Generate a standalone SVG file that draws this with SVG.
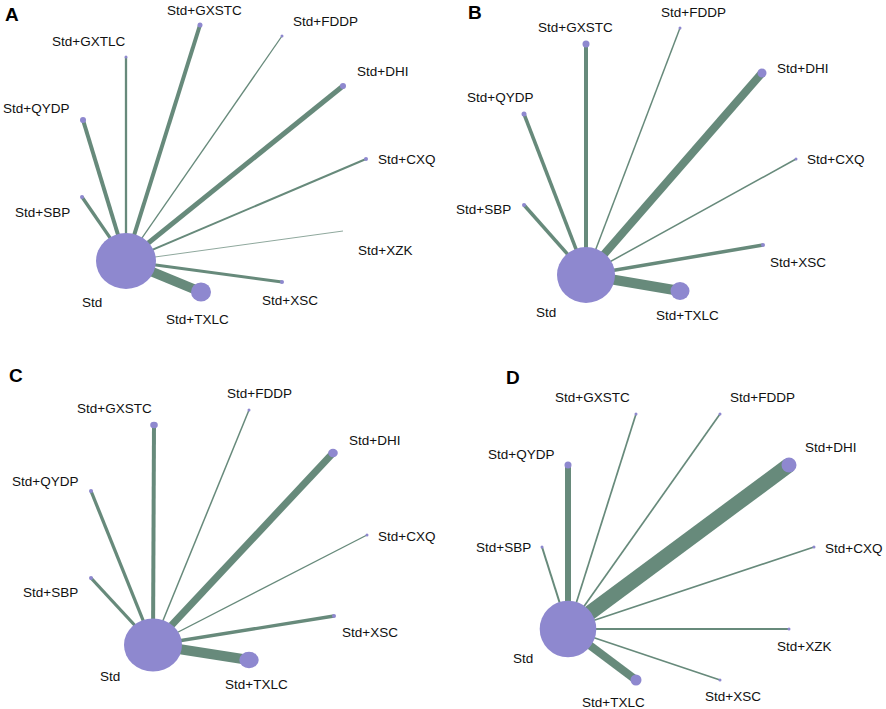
<svg xmlns="http://www.w3.org/2000/svg" width="886" height="709" viewBox="0 0 886 709">
<style>
.e{stroke:#678a7b;fill:none}
.n{fill:#8e88cf}
.t{font-family:"Liberation Sans",Arial,sans-serif;font-size:13.5px;fill:#111}
.p{font-family:"Liberation Sans",Arial,sans-serif;font-size:19px;font-weight:bold;fill:#000}
</style>
<rect width="886" height="709" fill="#fff"/>

<!-- Panel A -->
<g id="panelA">
<text class="p" x="5" y="21">A</text>
<g id="A-edges">
<line class="e" x1="126" y1="261" x2="200" y2="25" stroke-width="4"/>
<line class="e" x1="126" y1="261" x2="282" y2="36" stroke-width="1.3"/>
<line class="e" x1="126" y1="261" x2="126" y2="57" stroke-width="2.3"/>
<line class="e" x1="126" y1="261" x2="343" y2="86" stroke-width="5"/>
<line class="e" x1="126" y1="261" x2="83" y2="120" stroke-width="4"/>
<line class="e" x1="126" y1="261" x2="366" y2="159" stroke-width="2"/>
<line class="e" x1="126" y1="261" x2="82" y2="197" stroke-width="3.3"/>
<line x1="126" y1="261" x2="343" y2="231" stroke="#8fa89d" stroke-width="1"/>
<line class="e" x1="126" y1="261" x2="282" y2="282" stroke-width="3"/>
<line class="e" x1="126" y1="261" x2="201" y2="292" stroke-width="9.5"/>
</g>
<g id="A-Std"><ellipse class="n" cx="126" cy="261" rx="30" ry="28"/><text class="t" x="82" y="307">Std</text></g>
<g id="A-GXSTC"><circle class="n" cx="200" cy="25" r="2.5"/><text class="t" x="167" y="15">Std+GXSTC</text></g>
<g id="A-FDDP"><circle class="n" cx="282" cy="36" r="1.5"/><text class="t" x="293" y="26">Std+FDDP</text></g>
<g id="A-GXTLC"><circle class="n" cx="126" cy="57" r="1.5"/><text class="t" x="52" y="46">Std+GXTLC</text></g>
<g id="A-DHI"><circle class="n" cx="343" cy="86" r="3"/><text class="t" x="357" y="76">Std+DHI</text></g>
<g id="A-QYDP"><circle class="n" cx="83" cy="120" r="3"/><text class="t" x="3" y="113">Std+QYDP</text></g>
<g id="A-CXQ"><circle class="n" cx="366" cy="159" r="2"/><text class="t" x="378" y="164">Std+CXQ</text></g>
<g id="A-SBP"><circle class="n" cx="82" cy="197" r="2"/><text class="t" x="15" y="217">Std+SBP</text></g>
<g id="A-XZK"><text class="t" x="358" y="255">Std+XZK</text></g>
<g id="A-XSC"><circle class="n" cx="282" cy="282" r="2"/><text class="t" x="262" y="305">Std+XSC</text></g>
<g id="A-TXLC"><ellipse class="n" cx="201" cy="292" rx="10" ry="9.5"/><text class="t" x="166" y="324">Std+TXLC</text></g>
</g>

<!-- Panel B -->
<g id="panelB">
<text class="p" x="468" y="19">B</text>
<g id="B-edges">
<line class="e" x1="586" y1="275" x2="586" y2="44" stroke-width="4"/>
<line class="e" x1="586" y1="275" x2="680" y2="28" stroke-width="1.5"/>
<line class="e" x1="586" y1="275" x2="762" y2="73" stroke-width="8"/>
<line class="e" x1="586" y1="275" x2="524" y2="114" stroke-width="3.5"/>
<line class="e" x1="586" y1="275" x2="796" y2="159" stroke-width="1.5"/>
<line class="e" x1="586" y1="275" x2="524" y2="205" stroke-width="3.5"/>
<line class="e" x1="586" y1="275" x2="763" y2="245" stroke-width="3.5"/>
<line class="e" x1="586" y1="275" x2="680" y2="291" stroke-width="10"/>
</g>
<g id="B-Std"><ellipse class="n" cx="586" cy="275" rx="29" ry="28"/><text class="t" x="536" y="317">Std</text></g>
<g id="B-GXSTC"><circle class="n" cx="586" cy="44" r="3.5"/><text class="t" x="538" y="32">Std+GXSTC</text></g>
<g id="B-FDDP"><circle class="n" cx="680" cy="28" r="1.5"/><text class="t" x="661" y="17">Std+FDDP</text></g>
<g id="B-DHI"><circle class="n" cx="762" cy="73" r="4.5"/><text class="t" x="777" y="73">Std+DHI</text></g>
<g id="B-QYDP"><circle class="n" cx="524" cy="114" r="2.5"/><text class="t" x="467" y="102">Std+QYDP</text></g>
<g id="B-CXQ"><circle class="n" cx="796" cy="159" r="1.5"/><text class="t" x="807" y="164">Std+CXQ</text></g>
<g id="B-SBP"><circle class="n" cx="524" cy="205" r="2"/><text class="t" x="456" y="214">Std+SBP</text></g>
<g id="B-XSC"><circle class="n" cx="763" cy="245" r="2"/><text class="t" x="770" y="267">Std+XSC</text></g>
<g id="B-TXLC"><ellipse class="n" cx="680" cy="291" rx="9.5" ry="9"/><text class="t" x="656" y="320">Std+TXLC</text></g>
</g>

<!-- Panel C -->
<g id="panelC">
<text class="p" x="9" y="382">C</text>
<g id="C-edges">
<line class="e" x1="153" y1="645" x2="154" y2="425" stroke-width="4"/>
<line class="e" x1="153" y1="645" x2="249" y2="410" stroke-width="1.5"/>
<line class="e" x1="153" y1="645" x2="333" y2="453" stroke-width="7"/>
<line class="e" x1="153" y1="645" x2="91" y2="491" stroke-width="3.3"/>
<line class="e" x1="153" y1="645" x2="367" y2="535" stroke-width="1.3"/>
<line class="e" x1="153" y1="645" x2="91" y2="578" stroke-width="3.3"/>
<line class="e" x1="153" y1="645" x2="334" y2="616" stroke-width="3.3"/>
<line class="e" x1="153" y1="645" x2="249" y2="660" stroke-width="10"/>
</g>
<g id="C-Std"><ellipse class="n" cx="153" cy="645" rx="29" ry="26.5"/><text class="t" x="100" y="681">Std</text></g>
<g id="C-GXSTC"><ellipse class="n" cx="154" cy="425" rx="3.8" ry="3.3"/><text class="t" x="77" y="413">Std+GXSTC</text></g>
<g id="C-FDDP"><circle class="n" cx="249" cy="410" r="1.5"/><text class="t" x="227" y="398">Std+FDDP</text></g>
<g id="C-DHI"><ellipse class="n" cx="333" cy="453" rx="4.8" ry="4.2"/><text class="t" x="349" y="445">Std+DHI</text></g>
<g id="C-QYDP"><circle class="n" cx="91" cy="491" r="2"/><text class="t" x="12" y="486">Std+QYDP</text></g>
<g id="C-CXQ"><circle class="n" cx="367" cy="535" r="1.5"/><text class="t" x="378" y="541">Std+CXQ</text></g>
<g id="C-SBP"><circle class="n" cx="91" cy="578" r="2"/><text class="t" x="23" y="597">Std+SBP</text></g>
<g id="C-XSC"><circle class="n" cx="334" cy="616" r="2"/><text class="t" x="342" y="637">Std+XSC</text></g>
<g id="C-TXLC"><ellipse class="n" cx="249" cy="660" rx="9.7" ry="8.3"/><text class="t" x="225" y="689">Std+TXLC</text></g>
</g>

<!-- Panel D -->
<g id="panelD">
<text class="p" x="506" y="384">D</text>
<g id="D-edges">
<line class="e" x1="568" y1="629" x2="636" y2="414" stroke-width="1.7"/>
<line class="e" x1="568" y1="629" x2="720" y2="414" stroke-width="1.7"/>
<line class="e" x1="568" y1="629" x2="789" y2="465" stroke-width="15"/>
<line class="e" x1="568" y1="629" x2="568" y2="465" stroke-width="6"/>
<line class="e" x1="568" y1="629" x2="814" y2="547" stroke-width="1.8"/>
<line class="e" x1="568" y1="629" x2="542" y2="547" stroke-width="2"/>
<line class="e" x1="568" y1="629" x2="789" y2="629" stroke-width="2"/>
<line class="e" x1="568" y1="629" x2="720" y2="680" stroke-width="1.7"/>
<line class="e" x1="568" y1="629" x2="636" y2="680" stroke-width="8"/>
</g>
<g id="D-Std"><circle class="n" cx="568" cy="629" r="28.3"/><text class="t" x="513" y="663">Std</text></g>
<g id="D-GXSTC"><circle class="n" cx="636" cy="414" r="1.5"/><text class="t" x="555" y="402">Std+GXSTC</text></g>
<g id="D-FDDP"><circle class="n" cx="720" cy="414" r="1.5"/><text class="t" x="730" y="402">Std+FDDP</text></g>
<g id="D-DHI"><circle class="n" cx="789" cy="465" r="7.5"/><text class="t" x="805" y="452">Std+DHI</text></g>
<g id="D-QYDP"><circle class="n" cx="568" cy="465" r="3.5"/><text class="t" x="488" y="459">Std+QYDP</text></g>
<g id="D-CXQ"><circle class="n" cx="814" cy="547" r="1.5"/><text class="t" x="825" y="553">Std+CXQ</text></g>
<g id="D-SBP"><circle class="n" cx="542" cy="547" r="1.5"/><text class="t" x="476" y="552">Std+SBP</text></g>
<g id="D-XZK"><circle class="n" cx="789" cy="629" r="1.5"/><text class="t" x="777" y="651">Std+XZK</text></g>
<g id="D-XSC"><circle class="n" cx="720" cy="680" r="1.5"/><text class="t" x="705" y="701">Std+XSC</text></g>
<g id="D-TXLC"><circle class="n" cx="636" cy="680" r="5.5"/><text class="t" x="582" y="707">Std+TXLC</text></g>
</g>
</svg>
